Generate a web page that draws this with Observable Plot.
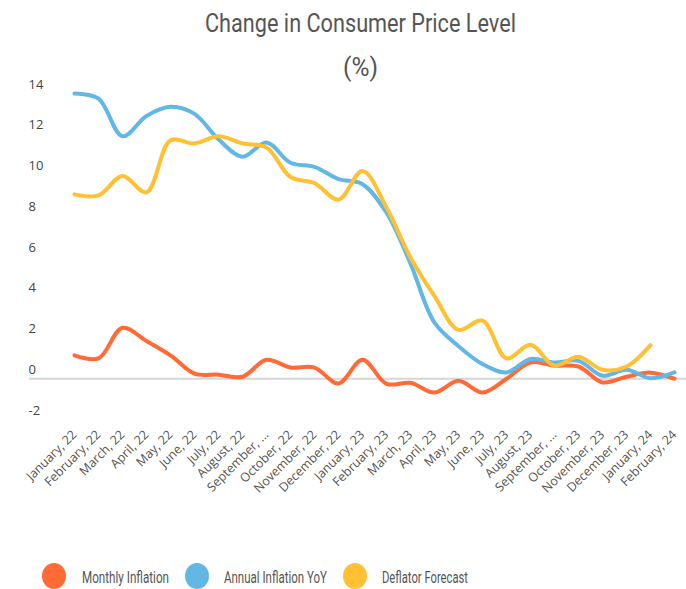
<!DOCTYPE html>
<html>
<head>
<meta charset="utf-8">
<script src="https://cdn.jsdelivr.net/npm/d3@7"></script>
<script src="https://cdn.jsdelivr.net/npm/@observablehq/plot@0.6"></script>
<style>
  body { margin: 0; background: #fff; }
  #wrap { position: relative; width: 686px; height: 589px; overflow: hidden; }
  .txt { position: absolute; white-space: nowrap; font-family: Roboto, "Open Sans", sans-serif; color: #555; transform-origin: 0 50%; line-height: 1; }
  .dot { position: absolute; width: 24px; height: 26px; border-radius: 50%; }
  #chart { position: absolute; left: 0; top: 0; }
</style>
</head>
<body>
<div id="wrap">
  <div id="chart"></div>
</div>
<script>
const months = ["January, 22","February, 22","March, 22","April, 22","May, 22","June, 22","July, 22","August, 22","September, 22","October, 22","November, 22","December, 22","January, 23","February, 23","March, 23","April, 23","May, 23","June, 23","July, 23","August, 23","September, 23","October, 23","November, 23","December, 23","January, 24","February, 24"];
const tickLabels = ["January, 22","February, 22","March, 22","April, 22","May, 22","June, 22","July, 22","August, 22","September, ...","October, 22","November, 22","December, 22","January, 23","February, 23","March, 23","April, 23","May, 23","June, 23","July, 23","August, 23","September, ...","October, 23","November, 23","December, 23","January, 24","February, 24"];
const monthly = [1.15, 1.0, 2.5, 1.85, 1.15, 0.25, 0.2, 0.1, 0.93, 0.55, 0.55, -0.23, 0.93, -0.25, -0.2, -0.68, -0.1, -0.68, 0.0, 0.8, 0.64, 0.6, -0.18, 0.1, 0.3, 0.0];
const annual = [14.0, 13.75, 11.9, 12.9, 13.35, 13.0, 11.75, 10.9, 11.6, 10.6, 10.4, 9.8, 9.55, 8.15, 5.65, 2.75, 1.6, 0.72, 0.31, 0.97, 0.8, 0.88, 0.15, 0.44, 0.03, 0.31];
const deflator = [9.05, 9.0, 9.95, 9.15, 11.7, 11.55, 11.9, 11.55, 11.35, 9.9, 9.6, 8.8, 10.2, 8.4, 5.95, 4.05, 2.4, 2.85, 1.0, 1.67, 0.64, 1.08, 0.44, 0.6, 1.65];
const series = ["Monthly Inflation", "Annual Inflation YoY", "Deflator Forecast"];
const colors = ["#FF6A35", "#62B7E5", "#FFC033"];
const yTicks = [-2, 0, 2, 4, 6, 8, 10, 12, 14];
const titleLines = ["Change in Consumer Price Level", "(%)"];

const rows = [];
[monthly, annual, deflator].forEach((vals, si) => {
  vals.forEach((v, i) => rows.push({month: months[i], value: v, series: series[si]}));
});
const labelOf = new Map(months.map((m, i) => [m, tickLabels[i]]));

const chart = Plot.plot({
  width: 686,
  height: 589,
  marginLeft: 68,
  marginRight: 6,
  marginTop: 93,
  marginBottom: 170,
  style: {fontFamily: "'Open Sans', sans-serif", background: "transparent"},
  x: {type: "point", domain: months, padding: 0},
  y: {domain: [-2, 14]},
  color: {domain: series, range: colors},
  marks: [
    Plot.ruleY([0], {stroke: "#d6d6d6", strokeWidth: 2, insetLeft: -39, insetRight: -6}),
    Plot.axisY({ticks: yTicks, tickSize: 0, tickPadding: 0, textAnchor: "start", dx: -40, dy: -9, fontSize: 13, color: "#444", label: null, tickFormat: d => String(d)}),
    Plot.axisX({tickSize: 0, tickPadding: 13, tickRotate: -45, fontSize: 12.5, color: "#555", label: null, tickFormat: d => labelOf.get(d)}),
    Plot.lineY(rows, {x: "month", y: "value", stroke: "series", strokeWidth: 4, curve: "catmull-rom"})
  ]
});
const wrap = document.getElementById("wrap");
document.getElementById("chart").appendChild(chart);

// condensed text: placed at left x, vertical center y, squeezed to target width
function addText(str, left, cy, size, targetW) {
  const el = document.createElement("div");
  el.className = "txt";
  el.textContent = str;
  el.style.fontSize = size + "px";
  el.style.left = left + "px";
  el.style.top = (cy - size / 2) + "px";
  wrap.appendChild(el);
  const w = el.getBoundingClientRect().width;
  el.style.transform = `scaleX(${targetW / w})`;
}
addText(titleLines[0], 205, 23, 26, 311);
addText(titleLines[1], 343, 67, 26, 35);

const dotX = [42, 185, 343];
const textX = [82, 224, 382];
const textW = [87, 103, 86];
series.forEach((s, i) => {
  const d = document.createElement("div");
  d.className = "dot";
  d.style.left = dotX[i] + "px";
  d.style.top = "563px";
  d.style.background = colors[i];
  wrap.appendChild(d);
  addText(s, textX[i], 577, 17, textW[i]);
});
</script>
</body>
</html>
